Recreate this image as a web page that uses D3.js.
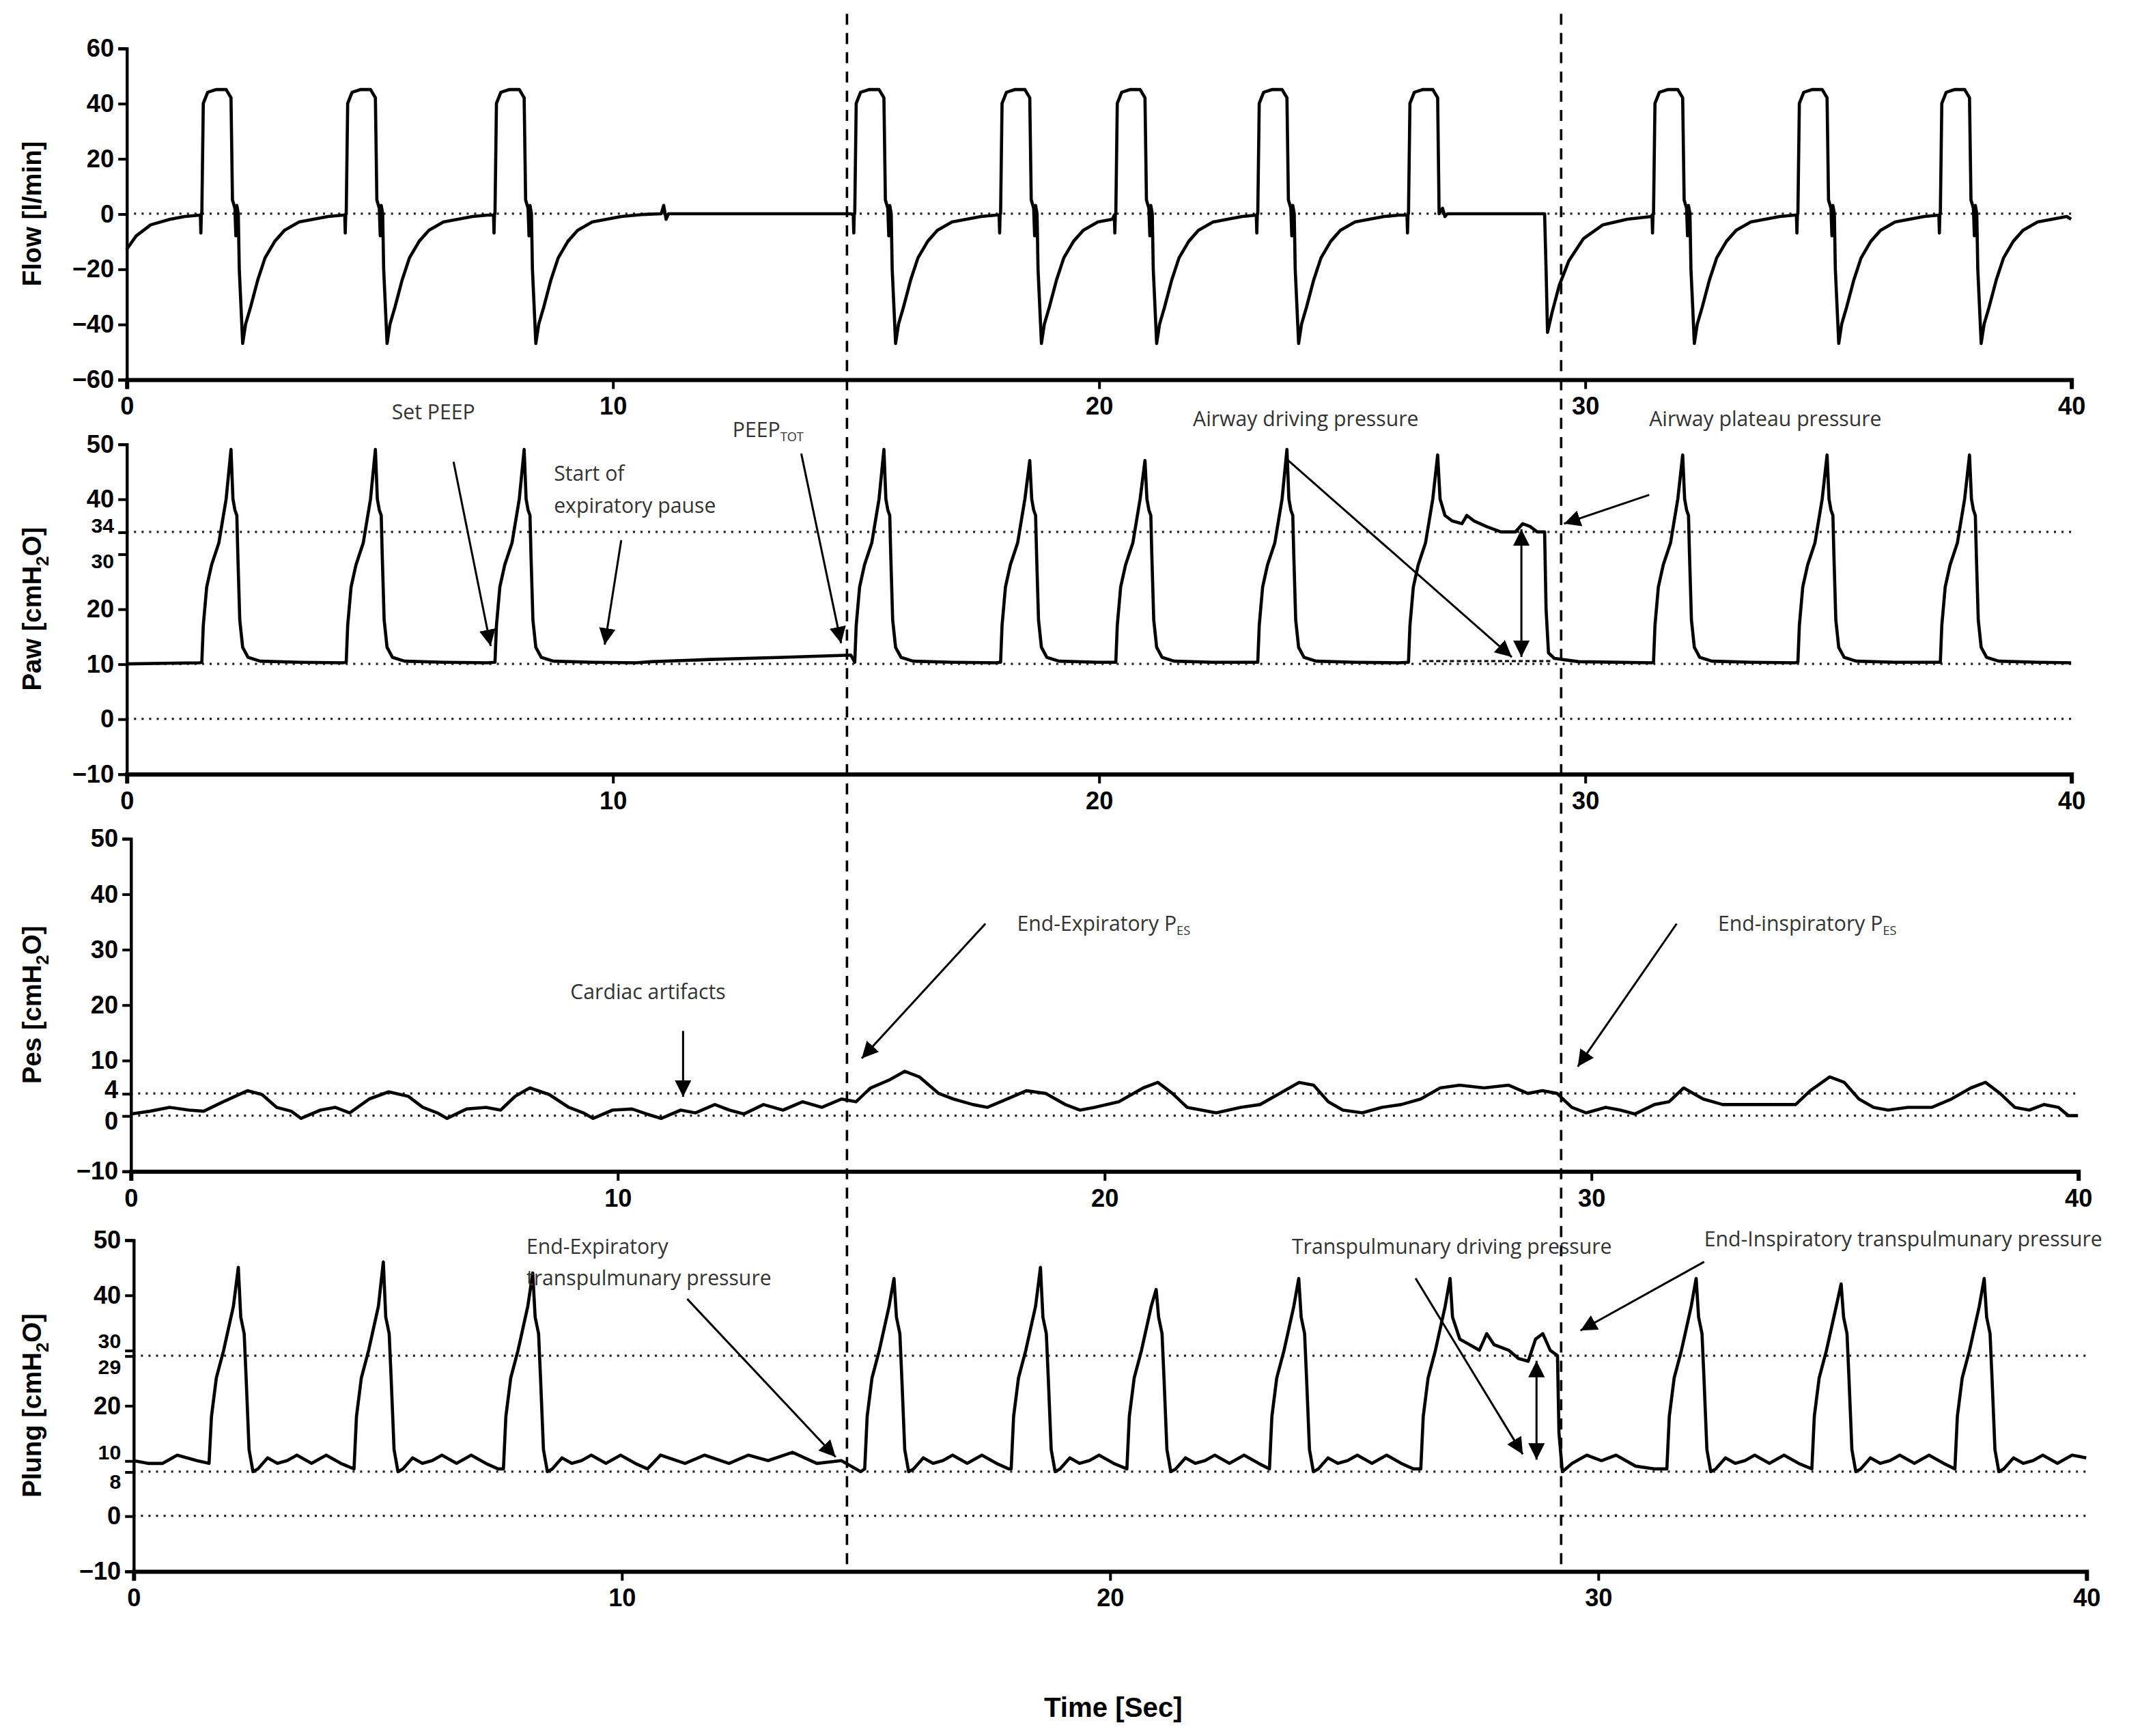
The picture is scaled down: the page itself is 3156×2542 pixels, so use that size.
<!DOCTYPE html>
<html><head><meta charset="utf-8">
<script src="https://cdn.jsdelivr.net/npm/d3@7"></script>
<style>body{margin:0;background:#fff}svg{display:block}</style>
</head><body>
<svg id="c" width="3156" height="2542" viewBox="0 0 1568 1263"></svg>
<script>
// ---------- data ----------
const breathStarts = [1.55, 4.52, 7.58, 14.98, 17.98, 20.35, 23.27, 26.37, 31.41, 34.38, 37.31];
const holdBreath = 7;       // index of breath with inspiratory hold
const pauseBreath = 2;      // breath followed by expiratory pause
const pawPeaks   = [49, 49, 49, 49, 47, 47, 49, 48, 48, 48, 48];
const plungPeaks = [45, 46, 44, 43, 45, 41, 43, 43, 43, 42, 43];

const flowPre = [[0,-13],[0.2,-8],[0.5,-4],[0.9,-2],[1.2,-1],[1.5,-0.5]];
const flowBreath = [[-0.03,-0.5],[-0.02,-7],[-0.01,0],[0,0],[0.03,40],[0.12,44],[0.3,45],[0.5,45],[0.6,42],[0.63,5],[0.68,2],[0.7,-8],[0.72,3],[0.75,0],[0.77,-20],[0.84,-47],[0.9,-40],[1.0,-34],[1.15,-24],[1.3,-16],[1.5,-10],[1.7,-6],[2.0,-3],[2.3,-2],[2.6,-1],[2.9,-0.5]];
const flowHold = [[-0.03,-0.5],[-0.02,-7],[-0.01,0],[0,0],[0.03,40],[0.12,44],[0.3,45],[0.5,45],[0.6,42],[0.63,0],[0.7,2],[0.75,-1],[0.8,0],[2.8,0],[2.83,-20],[2.86,-43],[2.95,-36],[3.1,-26],[3.3,-17],[3.6,-9],[4.0,-4],[4.5,-2],[5.0,-1]];
const flowPause = [[10.6,-0.3],[11.0,0],[11.05,3],[11.1,-2],[11.15,0],[12.0,0],[14.9,0]];
const flowTail = [[40,-2]];

const pawPre = [[0,10],[1.5,10.2]];
const pawBreath = [[0,10.3],[0.03,17],[0.1,24],[0.2,28],[0.35,32],[0.5,40],[0.6,"P"],[0.64,40],[0.68,38],[0.72,37],[0.74,30],[0.78,18],[0.84,13],[0.95,11.2],[1.2,10.5],[2.0,10.3],[2.9,10.2]];
const pawHold = [[0,10.3],[0.03,17],[0.1,24],[0.2,28],[0.35,32],[0.5,40],[0.6,"P"],[0.65,40],[0.75,37],[0.9,36],[1.1,35.5],[1.2,37],[1.35,36],[1.6,35],[1.9,34],[2.2,34],[2.35,35.5],[2.5,35],[2.65,34],[2.8,34],[2.83,20],[2.88,12],[3.0,11],[3.5,10.4],[5.0,10.2]];
const pawPause = [[10.8,10.4],[12,10.8],[13.5,11.2],[14.9,11.6]];
const pawTail = [[40,10.2]];

const pesSeries = [[0,0.3],[0.4,0.8],[0.8,1.5],[1.2,1],[1.5,0.8],[1.9,2.5],[2.4,4.5],[2.7,3.8],[3.0,1.5],[3.3,0.8],[3.5,-0.5],[3.9,1],[4.2,1.5],[4.5,0.5],[4.9,3],[5.3,4.3],[5.7,3.5],[6.0,1.5],[6.3,0.5],[6.5,-0.5],[6.9,1.2],[7.3,1.5],[7.6,1],[7.9,3.5],[8.2,5],[8.6,3.8],[9.0,1.5],[9.3,0.5],[9.5,-0.5],[9.9,1],[10.3,1.2],[10.6,0.3],[10.9,-0.5],[11.3,1],[11.6,0.5],[12.0,2],[12.3,1],[12.6,0.3],[13.0,2],[13.4,1],[13.8,2.5],[14.2,1.5],[14.6,3],[14.9,2.5],[15.2,5],[15.6,6.5],[15.9,8],[16.2,7],[16.6,4],[16.9,3],[17.3,2],[17.6,1.5],[18.0,3],[18.4,4.5],[18.8,4],[19.2,2],[19.5,1],[19.8,1.5],[20.3,2.5],[20.8,5],[21.1,6],[21.4,4],[21.7,1.5],[22.0,1],[22.3,0.5],[22.8,1.5],[23.2,2],[23.6,4],[24.0,6],[24.3,5.5],[24.6,2.5],[24.9,1],[25.3,0.5],[25.7,1.5],[26.1,2],[26.5,3],[26.9,5],[27.3,5.5],[27.8,5],[28.3,5.5],[28.7,4],[29.0,4.5],[29.3,4],[29.6,1.5],[29.9,0.5],[30.3,1.5],[30.6,1],[30.9,0.3],[31.3,2],[31.6,2.5],[31.9,5],[32.3,3],[32.7,2],[33.2,2],[33.8,2],[34.2,2],[34.5,4.5],[34.9,7],[35.2,6],[35.5,3],[35.8,1.5],[36.1,1],[36.5,1.5],[37.0,1.5],[37.4,3],[37.8,5],[38.1,6],[38.4,4],[38.7,1.5],[39.0,1],[39.3,2],[39.6,1.5],[39.8,0],[40,0]];

const plungPre = [[0,10],[0.3,9.5],[0.6,9.5],[0.9,11],[1.3,10],[1.55,9.5]];
const plungBreath = [[0,8.5],[0.05,18],[0.15,25],[0.3,30],[0.5,38],[0.6,"P"],[0.65,36],[0.72,33],[0.76,25],[0.82,12],[0.9,8],[1.0,8.5],[1.2,10.5],[1.4,9.5],[1.6,10],[1.8,11],[2.1,9.5],[2.4,11],[2.7,9.5],[2.95,8.5]];
const plungHold = [[0,8.5],[0.05,18],[0.15,25],[0.3,30],[0.5,38],[0.6,"P"],[0.65,36],[0.8,32],[1.0,31],[1.2,30],[1.35,33],[1.5,31],[1.8,30],[2.0,28.5],[2.2,28],[2.35,32],[2.5,33],[2.65,30],[2.8,29],[2.83,15],[2.9,8],[3.1,9.5],[3.4,11],[3.7,10],[4.0,11],[4.4,9],[4.8,8.5],[5.0,8.5]];
const plungPause = [[10.8,11],[11.3,9.5],[11.7,11],[12.2,9.5],[12.6,11],[13.0,10],[13.5,11.5],[14.0,9.5],[14.5,10],[14.9,8]];
const plungTail = [[40,10.5]];

const xTicks = [0,10,20,30,40];
const flowTicks = [-60,-40,-20,0,20,40,60];
const pawTicks = [-10,0,10,20,30,34,40,50];
const pesTicks = [-10,0,4,10,20,30,40,50];
const plungTicks = [-10,0,8,10,20,29,30,40,50];
const refLines = [[0],[0,10,34],[0,4],[0,8,29]];
const yTitles = ["Flow [l/min]","Paw [cmH2O]","Pes [cmH2O]","Plung [cmH2O]"];
// small label nudges for crowded tick pairs (value -> dy px)
const tickNudge = [{}, {34:-5,30:5}, {4:-3,0:4}, {29:8,30:-7,10:-6,8:7}];

// ---------- build series ----------
function build(pre, tmpl, hold, pause, peaks, tail){
  let pts = pre.slice();
  breathStarts.forEach((s,i)=>{
    const next = i+1<breathStarts.length ? breathStarts[i+1]-0.035 : 40;
    const t = i===holdBreath ? hold : tmpl;
    let last = pts.length ? pts[pts.length-1][0] : 0;
    t.forEach(([d,v])=>{
      const tt=s+d;
      if(tt>last && tt<next){ pts.push([tt, v==="P" ? peaks[i] : v]); last=tt; }
    });
    if(i===pauseBreath) pause.forEach(p=>{ if(p[0]>last && p[0]<next){pts.push(p); last=p[0];} });
  });
  return pts.filter(p=>p[0]<40).concat(tail);
}
const flow = build(flowPre, flowBreath, flowHold, flowPause, null, flowTail);
const paw = build(pawPre, pawBreath, pawHold, pawPause, pawPeaks, pawTail);
const plung = build(plungPre, plungBreath, plungHold, plungPause, plungPeaks, plungTail);

// ---------- draw ----------
const svg = d3.select("#c");
const panels = [
  {x0:92,x1:1507,yt:35,yb:276,dom:[-60,60],ticks:flowTicks,data:flow},
  {x0:92,x1:1507,yt:323,yb:563,dom:[-10,50],ticks:pawTicks,data:paw},
  {x0:95,x1:1512,yt:610,yb:852,dom:[-10,50],ticks:pesTicks,data:pesSeries},
  {x0:97,x1:1518,yt:902,yb:1143,dom:[-10,50],ticks:plungTicks,data:plung}
];
const tickFont = "'Liberation Sans Narrow','Liberation Sans',Arial,sans-serif";
panels.forEach((p,k)=>{
  const x = d3.scaleLinear().domain([0,40]).range([p.x0,p.x1]);
  const y = d3.scaleLinear().domain(p.dom).range([p.yb,p.yt]);
  p.x=x; p.y=y;
  refLines[k].forEach(v=>{
    svg.append("line").attr("x1",x(0)).attr("x2",x(40)).attr("y1",y(v)).attr("y2",y(v))
      .attr("stroke","#222").attr("stroke-width",1.6).attr("stroke-dasharray","1.5,4");
  });
  const ya = svg.append("g").attr("transform",`translate(${p.x0},0)`)
    .call(d3.axisLeft(y).tickValues(p.ticks).tickSize(6).tickFormat(d3.format("d")));
  const xa = svg.append("g").attr("transform",`translate(0,${p.yb})`)
    .call(d3.axisBottom(x).tickValues(xTicks).tickSize(7).tickPadding(6));
  [ya,xa].forEach(g=>{
    g.select(".domain").attr("stroke","#000").attr("stroke-width",2.2);
    g.selectAll(".tick line").attr("stroke","#000").attr("stroke-width",2);
    g.selectAll("text").attr("font-family",tickFont).attr("font-weight","bold").attr("font-size",18).attr("fill","#000");
  });
  const small = k===3 ? {29:1,30:1,8:1,10:1} : k===1 ? {30:1,34:1} : {};
  ya.selectAll(".tick text").attr("dy","0.32em")
    .attr("font-size",d=>small[d]?15:18)
    .attr("transform",d=>`translate(0,${tickNudge[k][d]||0})`);
  xa.select(".domain").attr("stroke-width",3);
  svg.append("path").datum(p.data)
    .attr("d",d3.line().x(d=>x(d[0])).y(d=>y(d[1])))
    .attr("fill","none").attr("stroke","#000").attr("stroke-width",2.3).attr("stroke-linejoin","round");
  const t = svg.append("text").attr("transform",`translate(30,${(p.yt+p.yb)/2}) rotate(-90)`)
    .attr("text-anchor","middle").attr("font-family","Arial,'Liberation Sans',sans-serif")
    .attr("font-weight","bold").attr("font-size",19);
  const ttl = yTitles[k];
  if(ttl.includes("H2O")){
    const [a] = ttl.split("H2O");
    t.append("tspan").text(a+"H");
    t.append("tspan").attr("font-size",13).attr("dy",5).text("2");
    t.append("tspan").attr("dy",-5).text("O]");
  } else t.text(ttl);
});

// vertical dashed lines
const vx = panels[0].x;
[14.82, 29.51].forEach(t=>{
  svg.append("line").attr("x1",vx(t)).attr("x2",vx(t)).attr("y1",10).attr("y2",1140)
    .attr("stroke","#000").attr("stroke-width",1.8).attr("stroke-dasharray","8,6");
});

// annotations
svg.append("defs").append("marker").attr("id","ah").attr("viewBox","0 0 10 10").attr("refX",10).attr("refY",5)
  .attr("markerWidth",12).attr("markerHeight",12).attr("markerUnits","userSpaceOnUse").attr("orient","auto-start-reverse")
  .append("path").attr("d","M0,0L10,5L0,10z").attr("fill","#000");
const annFont = "'Liberation Sans Narrow','Open Sans',sans-serif";
function txt(x,y,s,sub){
  const t = svg.append("text").attr("x",x).attr("y",y).attr("font-family",annFont).attr("font-size",15).attr("fill","#333");
  t.append("tspan").text(s);
  if(sub) t.append("tspan").attr("font-size",9).attr("dy",3).text(sub);
}
function arrow(x1,y1,x2,y2,both){
  const l = svg.append("line").attr("x1",x1).attr("y1",y1).attr("x2",x2).attr("y2",y2)
    .attr("stroke","#000").attr("stroke-width",1.5).attr("marker-end","url(#ah)");
  if(both) l.attr("marker-start","url(#ah)");
}
txt(285,305,"Set PEEP"); arrow(330,336,357,470);
txt(403,350,"Start of"); txt(403,373,"expiratory pause"); arrow(452,393,440,469);
txt(533,318,"PEEP","TOT"); arrow(583,330,612,468);
txt(868,310,"Airway driving pressure"); arrow(935,333,1100,478);
txt(1200,310,"Airway plateau pressure"); arrow(1200,360,1138,381);
arrow(1107,385,1107,478,true);
svg.append("line").attr("x1",1035).attr("x2",1130).attr("y1",481).attr("y2",481).attr("stroke","#000").attr("stroke-width",1.5).attr("stroke-dasharray","3,2");
txt(740,677,"End-Expiratory P","ES"); arrow(717,672,627,770);
txt(1250,677,"End-inspiratory P","ES"); arrow(1220,672,1148,776);
txt(415,727,"Cardiac artifacts"); arrow(497,750,497,798);
txt(383,912,"End-Expiratory"); txt(383,935,"transpulmunary pressure"); arrow(500,945,608,1060);
txt(940,912,"Transpulmunary driving pressure"); arrow(1030,930,1108,1058);
arrow(1118,990,1118,1062,true);
txt(1240,907,"End-Inspiratory transpulmunary pressure"); arrow(1240,918,1150,968);

svg.append("text").attr("x",810).attr("y",1249).attr("text-anchor","middle")
  .attr("font-family","Arial,'Liberation Sans',sans-serif").attr("font-weight","bold").attr("font-size",20).text("Time [Sec]");
</script>
</body></html>
